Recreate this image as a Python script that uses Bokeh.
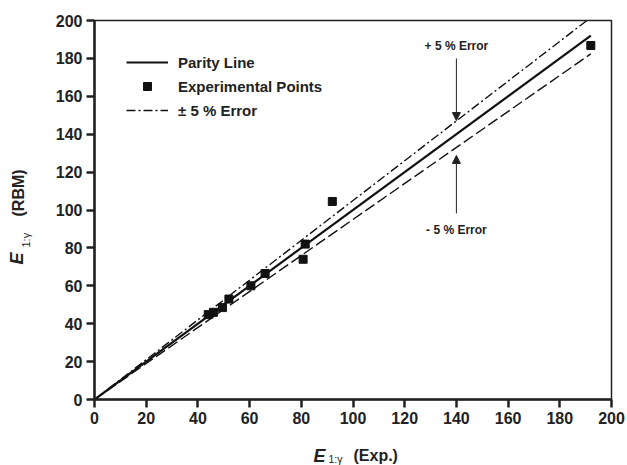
from bokeh.plotting import figure
from bokeh.layouts import row, column
from bokeh.models import (Label, Arrow, NormalHead, Legend, LegendItem,
                          FixedTicker, ColumnDataSource)
from bokeh.core.properties import value
from bokeh.embed import file_html
from bokeh.resources import INLINE
import math

# ---- data ----
exp_x = [44.0, 46.0, 49.5, 52.0, 60.5, 66.0, 81.5, 80.7, 92.0, 192.0]
rbm_y = [44.8, 46.0, 48.5, 53.0, 60.0, 66.5, 82.0, 74.0, 104.5, 186.8]
parity_x = [0, 192]
upper_x = [0, 190.5]
lower_x = [0, 192]
err = 0.05
ticks = list(range(0, 201, 20))

FONT = "Liberation Sans"
INK = "#222222"


def no_align(f):
    try:
        f.frame_align = False
    except AttributeError:
        pass


# ---------------- main plot ----------------
p = figure(width=587, height=428, x_range=(0, 200), y_range=(0, 200),
           output_backend="svg", toolbar_location=None,
           min_border_left=54, min_border_right=16,
           min_border_top=20, min_border_bottom=29)
no_align(p)
p.grid.visible = False
p.background_fill_color = "white"
p.border_fill_color = "white"
p.outline_line_color = INK
p.outline_line_width = 1.5

for ax in (p.xaxis[0], p.yaxis[0]):
    ax.ticker = FixedTicker(ticks=ticks)
    ax.minor_tick_line_color = None
    ax.axis_line_width = 2.5
    ax.axis_line_color = INK
    ax.major_tick_line_width = 2.5
    ax.major_tick_line_color = INK
    ax.major_tick_in = 0
    ax.major_tick_out = 8
    ax.major_label_text_font = FONT
    ax.major_label_text_font_style = "bold"
    ax.major_label_text_font_size = "16px"
    ax.major_label_text_color = INK
    ax.major_label_standoff = 4

src_line = ColumnDataSource(dict(x=parity_x, y=parity_x))
src_up = ColumnDataSource(dict(x=upper_x, y=[v * (1 + err) for v in upper_x]))
src_lo = ColumnDataSource(dict(x=lower_x, y=[v * (1 - err) for v in lower_x]))
src_pts = ColumnDataSource(dict(x=exp_x, y=rbm_y))

r_par = p.line("x", "y", source=src_line, line_color="#111111", line_width=2.2)
r_up = p.line("x", "y", source=src_up, line_color="#111111", line_width=1.4,
              line_dash="9 3 2 3")
r_lo = p.line("x", "y", source=src_lo, line_color="#111111", line_width=1.4,
              line_dash="11 4")
r_pts = p.scatter("x", "y", source=src_pts, marker="square", size=8,
                  fill_color="#111111", line_color="#111111")

legend = Legend(items=[
    LegendItem(label="Parity Line", renderers=[r_par]),
    LegendItem(label="Experimental Points", renderers=[r_pts]),
    LegendItem(label="\u00b1 5 % Error", renderers=[r_up]),
], location="top_left")
legend.border_line_color = None
legend.background_fill_alpha = 0
legend.label_text_font = FONT
legend.label_text_font_style = "bold"
legend.label_text_font_size = "15px"
legend.label_text_color = INK
legend.glyph_width = 42
legend.glyph_height = 20
legend.label_height = 20
legend.spacing = 4
legend.label_standoff = 10
legend.margin = 32
legend.padding = 1
p.add_layout(legend)

# annotations
p.add_layout(Label(x=140, y=186.8, text="+ 5 % Error", text_font=FONT,
                   text_font_style="bold", text_font_size="12px",
                   text_align="center", text_baseline="middle",
                   text_color=INK))
p.add_layout(Label(x=140, y=89.2, text="- 5 % Error", text_font=FONT,
                   text_font_style="bold", text_font_size="12px",
                   text_align="center", text_baseline="middle",
                   text_color=INK))
p.add_layout(Arrow(x_start=140, y_start=180, x_end=140, y_end=147.2,
                   line_width=1, line_color=INK,
                   end=NormalHead(size=8, fill_color=INK, line_color=INK)))
p.add_layout(Arrow(x_start=140, y_start=98.2, x_end=140, y_end=128.8,
                   line_width=1, line_color=INK,
                   end=NormalHead(size=8, fill_color=INK, line_color=INK)))


# ---------------- title strips ----------------
def strip(w, h):
    f = figure(width=w, height=h, x_range=(0, w), y_range=(0, h),
               output_backend="svg", toolbar_location=None,
               x_axis_type=None, y_axis_type=None,
               min_border=0, min_border_left=0, min_border_right=0,
               min_border_top=0, min_border_bottom=0)
    no_align(f)
    f.grid.visible = False
    f.outline_line_color = None
    f.background_fill_color = "white"
    f.border_fill_color = "white"
    return f


def txt(f, x, y, s, size, style, angle=0.0):
    f.text(x=[x], y=[y], text=[s], text_font=value(FONT),
           text_font_size=size, text_font_style=style,
           text_align="left", text_baseline="alphabetic",
           angle=angle, text_color=INK)


# y title strip: 40 x 465, page coords -> (x, 465 - y)
ys = strip(40, 465)
a = math.pi / 2
txt(ys, 16, 465 - 264, "E", "18px", "bold italic", a)
txt(ys, 25, 465 - 247, "1:\u03b3", "11px", "normal", a)
txt(ys, 18, 465 - 216, "(RBM)", "16px", "bold", a)

# x title strip: 587 x 37, placed at page x=40, y=428
xs = strip(587, 37)
txt(xs, 313 - 40, 465 - 455, "E", "18px", "bold italic")
txt(xs, 328 - 40, 465 - 458, "1:\u03b3", "10.5px", "normal")
txt(xs, 353 - 40, 465 - 455, "(Exp.)", "16px", "bold")

layout = row(ys, column(p, xs))

open("out.html", "w").write(file_html(layout, INLINE))
